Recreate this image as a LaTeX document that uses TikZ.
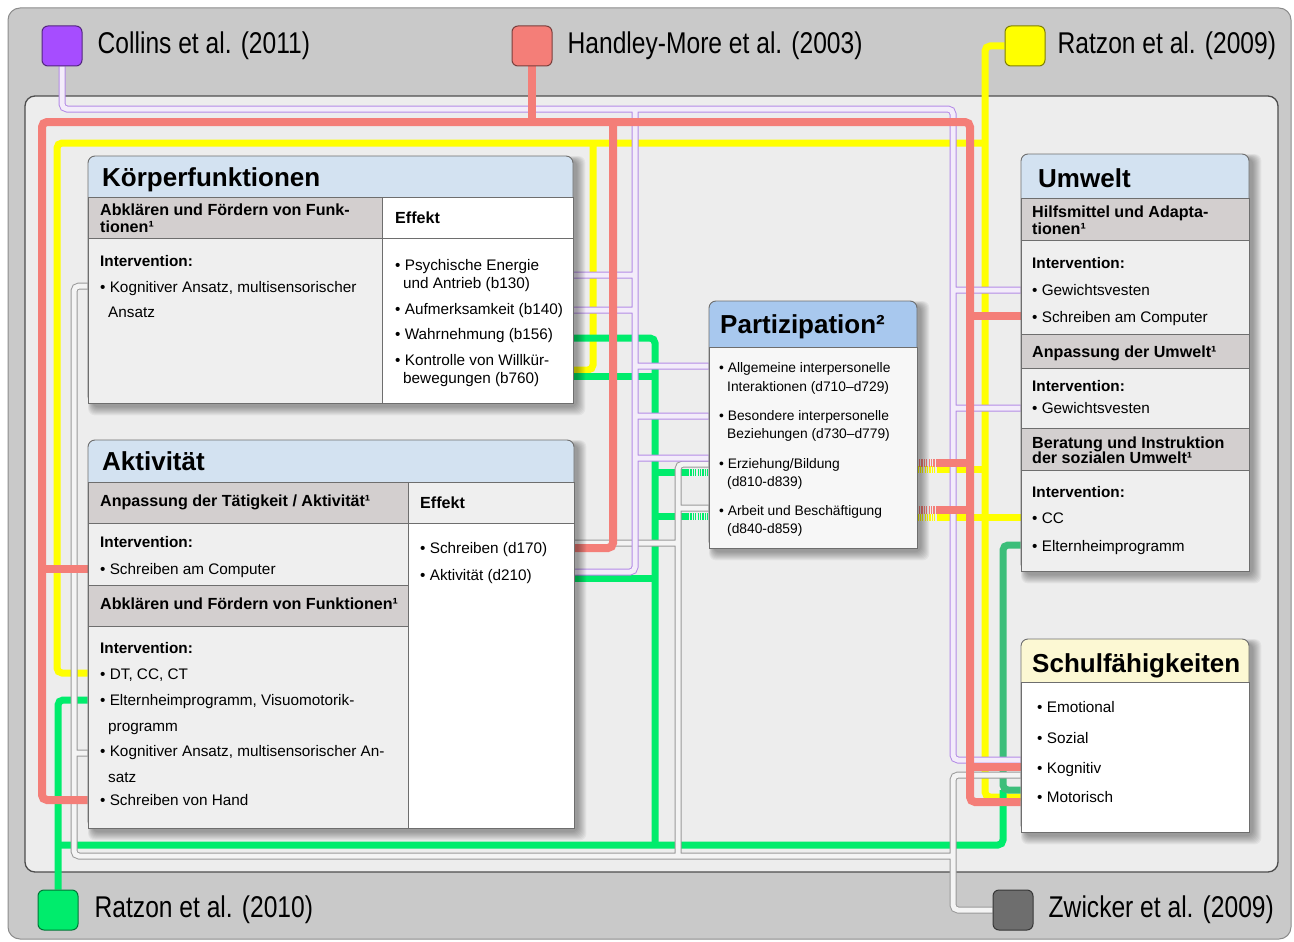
\documentclass[tikz,border=0pt]{standalone}
\usepackage{fontspec}
\setmainfont{Liberation Sans}
\newfontfamily\narrowfont{Liberation Sans}[FakeStretch=0.82]
\usetikzlibrary{positioning}

\definecolor{outerbg}{HTML}{C9C9C9}
\definecolor{outerline}{HTML}{8C8C8C}
\definecolor{innerbg}{HTML}{EDEDED}
\definecolor{innerline}{HTML}{4D4D4D}
\definecolor{headblue}{HTML}{D3E2F1}
\definecolor{partblue}{HTML}{A8C8EE}
\definecolor{creamhead}{HTML}{FCF8D3}
\definecolor{subgrey}{HTML}{D3CFCF}
\definecolor{cellgrey}{HTML}{EFEFEF}
\definecolor{boxline}{HTML}{6E6E6E}
\definecolor{hmred}{HTML}{F47E78}
\definecolor{rzyellow}{HTML}{FFFF00}
\definecolor{rzgreen}{HTML}{00EC6C}
\definecolor{rzgreendark}{HTML}{3CBE7A}
\definecolor{cpedge}{HTML}{B48BE6}
\definecolor{cpfill}{HTML}{F3ECFA}
\definecolor{zgedge}{HTML}{9A9A9A}
\definecolor{zgfill}{HTML}{F4F4F4}
\definecolor{collinscol}{HTML}{A64DFF}
\definecolor{zwickercol}{HTML}{6E6E6E}

\pgfdeclarelayer{bg}
\pgfdeclarelayer{lines}
\pgfdeclarelayer{shade}
\pgfsetlayers{bg,lines,shade,main}

\tikzset{
  legbox/.style={draw=#1!50!black, fill=#1, rounded corners=6pt, minimum size=40pt, inner sep=0pt, line width=1pt},
  legtxt/.style={font=\narrowfont\fontsize{30}{36}\selectfont, inner sep=0pt},
  panel/.style={draw=boxline, line width=0.9pt, rounded corners=7pt, inner sep=0pt},
  cell/.style={fill=#1, draw=boxline, line width=0.9pt},
  titletxt/.style={anchor=base west, inner sep=0pt, font=\fontsize{26}{30}\selectfont\bfseries},
  subtxt/.style={anchor=base west, inner sep=0pt, font=\fontsize{16.1}{18}\selectfont\bfseries},
  intertxt/.style={anchor=base west, inner sep=0pt, font=\fontsize{15.3}{18}\selectfont\bfseries},
  bodytxt/.style={anchor=base west, inner sep=0pt, font=\fontsize{15.3}{18}\selectfont},
  parttxt/.style={anchor=base west, inner sep=0pt, font=\fontsize{13.8}{16}\selectfont},
  redline/.style={draw=hmred, line width=8pt, rounded corners=5pt},
  yelline/.style={draw=rzyellow, line width=7pt, rounded corners=5pt},
  grnline/.style={draw=rzgreen, line width=7pt, rounded corners=5pt},
  tubeedge/.style={draw=#1, line width=7pt, rounded corners=5pt},
  tubefill/.style={draw=#1, line width=5pt, rounded corners=5pt},
  hatch/.style={dash pattern=on 1.2pt off 1.2pt, rounded corners=0pt}
}

% soft shadow below and right of a box node
\newcommand{\softshadow}[1]{%
  \begin{pgfonlayer}{shade}
  \foreach \d in {1,...,9}
    \fill[black, opacity=0.045, rounded corners=7pt]
      ([shift={(5-0.5*\d,5-0.5*\d)}]#1.north west) rectangle ([shift={(3+\d,3+\d)}]#1.south east);
  \end{pgfonlayer}}

% routes of the two outlined lines
\def\collinsroute{(collins.south) |- (953,109) |- (schule.west |- 0,760)
  (635,109) |- (aktiv.east |- 0,572)
  (koerper.east |- 0,275) -- (635,275)
  (koerper.east |- 0,310) -- (635,310)
  (635,366) -- (partiz.west |- 0,366)
  (635,416) -- (partiz.west |- 0,416)
  (635,458) -- (partiz.west |- 0,458)
  (953,290) -- (umwelt.west |- 0,290)
  (953,408) -- (umwelt.west |- 0,408)}
\def\zwickerroute{(zwicker.west) -| (953,775) -- (schule.west |- 0,775)
  (953,856) -| (74,286) -- (koerper.west |- 0,286)
  (74,753) -- (aktiv.west |- 0,753)
  (678,856) |- (partiz.west |- 0,464)
  (aktiv.east |- 0,543) -- (678,543)
  (678,508) -- (partiz.west |- 0,508)}

\begin{document}
\begin{tikzpicture}[x=1pt,y=-1pt]
\useasboundingbox (0,0) rectangle (1294,942);

% legend
\node[legbox=collinscol] (collins) at (62,46) {};
\node[legtxt, right=15pt of collins] {Collins et al. (2011)};
\node[legbox=hmred] (handley) at (532,46) {};
\node[legtxt, right=15pt of handley] {Handley-More et al. (2003)};
\node[legbox=rzyellow] (ratzon9) at (1025,46) {};
\node[legtxt, right=12pt of ratzon9] {Ratzon et al. (2009)};
\node[legbox=rzgreen] (ratzon10) at (58,910) {};
\node[legtxt, right=16pt of ratzon10] {Ratzon et al. (2010)};
\node[legbox=zwickercol] (zwicker) at (1013,910) {};
\node[legtxt, right=15pt of zwicker] {Zwicker et al. (2009)};

% Koerperfunktionen
\node[panel, fill=headblue, minimum width=485pt, minimum height=247pt] (koerper) at (330.5,279.5) {};
\softshadow{koerper}
\filldraw[cell=subgrey] (88,197) rectangle (382,238);
\filldraw[cell=white] (382,197) rectangle (573,238);
\filldraw[cell=cellgrey] (88,238) rectangle (382,403);
\filldraw[cell=white] (382,238) rectangle (573,403);
\node[titletxt] at (102,186) {Körperfunktionen};
\node[subtxt] at (100,215) {Abklären und Fördern von Funk-};
\node[subtxt] at (100,232) {tionen¹};
\node[subtxt] at (395,223) {Effekt};
\node[intertxt] at (100,266) {Intervention:};
\node[bodytxt] at (100,292) {• Kognitiver Ansatz, multisensorischer};
\node[bodytxt] at (108,317) {Ansatz};
\node[bodytxt] at (395,270) {• Psychische Energie};
\node[bodytxt] at (403,288) {und Antrieb (b130)};
\node[bodytxt] at (395,314) {• Aufmerksamkeit (b140)};
\node[bodytxt] at (395,339) {• Wahrnehmung (b156)};
\node[bodytxt] at (395,365) {• Kontrolle von Willkür-};
\node[bodytxt] at (403,383) {bewegungen (b760)};

% Aktivitaet
\node[panel, fill=headblue, minimum width=486pt, minimum height=388pt] (aktiv) at (331,634) {};
\softshadow{aktiv}
\filldraw[cell=subgrey] (88,482) rectangle (408,523);
\filldraw[cell=cellgrey] (408,482) rectangle (574,523);
\filldraw[cell=cellgrey] (88,523) rectangle (408,585);
\filldraw[cell=subgrey] (88,585) rectangle (408,626);
\filldraw[cell=cellgrey] (88,626) rectangle (408,828);
\filldraw[cell=white] (408,523) rectangle (574,828);
\node[titletxt] at (102,470) {Aktivität};
\node[subtxt] at (100,506) {Anpassung der Tätigkeit / Aktivität¹};
\node[subtxt] at (420,508) {Effekt};
\node[intertxt] at (100,547) {Intervention:};
\node[bodytxt] at (100,574) {• Schreiben am Computer};
\node[subtxt] at (100,609) {Abklären und Fördern von Funktionen¹};
\node[intertxt] at (100,653) {Intervention:};
\node[bodytxt] at (100,679) {• DT, CC, CT};
\node[bodytxt] at (100,705) {• Elternheimprogramm, Visuomotorik-};
\node[bodytxt] at (108,731) {programm};
\node[bodytxt] at (100,756) {• Kognitiver Ansatz, multisensorischer An-};
\node[bodytxt] at (108,782) {satz};
\node[bodytxt] at (100,805) {• Schreiben von Hand};
\node[bodytxt] at (420,553) {• Schreiben (d170)};
\node[bodytxt] at (420,580) {• Aktivität (d210)};

% Partizipation
\node[panel, fill=partblue, minimum width=208pt, minimum height=247pt] (partiz) at (813,424.5) {};
\softshadow{partiz}
\filldraw[cell=white!97!black] (709,347) rectangle (917,548);
\node[titletxt] at (720,333) {Partizipation²};
\node[parttxt] at (719,372) {• Allgemeine interpersonelle};
\node[parttxt] at (727,391) {Interaktionen (d710–d729)};
\node[parttxt] at (719,420) {• Besondere interpersonelle};
\node[parttxt] at (727,438) {Beziehungen (d730–d779)};
\node[parttxt] at (719,468) {• Erziehung/Bildung};
\node[parttxt] at (727,486) {(d810-d839)};
\node[parttxt] at (719,515) {• Arbeit und Beschäftigung};
\node[parttxt] at (727,533) {(d840-d859)};

% Umwelt
\node[panel, fill=headblue, minimum width=228pt, minimum height=417pt] (umwelt) at (1135,362.5) {};
\softshadow{umwelt}
\filldraw[cell=subgrey] (1021,198) rectangle (1249,240);
\filldraw[cell=cellgrey] (1021,240) rectangle (1249,334);
\filldraw[cell=subgrey] (1021,334) rectangle (1249,368);
\filldraw[cell=cellgrey] (1021,368) rectangle (1249,428);
\filldraw[cell=subgrey] (1021,428) rectangle (1249,470);
\filldraw[cell=cellgrey] (1021,470) rectangle (1249,571);
\node[titletxt] at (1038,187) {Umwelt};
\node[subtxt] at (1032,217) {Hilfsmittel und Adapta-};
\node[subtxt] at (1032,234) {tionen¹};
\node[intertxt] at (1032,268) {Intervention:};
\node[bodytxt] at (1032,295) {• Gewichtsvesten};
\node[bodytxt] at (1032,322) {• Schreiben am Computer};
\node[subtxt] at (1032,357) {Anpassung der Umwelt¹};
\node[intertxt] at (1032,391) {Intervention:};
\node[bodytxt] at (1032,413) {• Gewichtsvesten};
\node[subtxt] at (1032,448) {Beratung und Instruktion};
\node[subtxt] at (1032,463) {der sozialen Umwelt¹};
\node[intertxt] at (1032,497) {Intervention:};
\node[bodytxt] at (1032,523) {• CC};
\node[bodytxt] at (1032,551) {• Elternheimprogramm};

% Schulfaehigkeiten
\node[panel, fill=creamhead, minimum width=228pt, minimum height=193pt] (schule) at (1135,735.5) {};
\softshadow{schule}
\filldraw[cell=white] (1021,682) rectangle (1249,832);
\node[titletxt] at (1032,672) {Schulfähigkeiten};
\node[bodytxt] at (1037,712) {• Emotional};
\node[bodytxt] at (1037,743) {• Sozial};
\node[bodytxt] at (1037,773) {• Kognitiv};
\node[bodytxt] at (1037,802) {• Motorisch};

\begin{pgfonlayer}{bg}
\filldraw[fill=outerbg, draw=outerline, line width=1pt, rounded corners=12pt] (8,8) rectangle (1291,939);
\filldraw[fill=innerbg, draw=innerline, line width=1.3pt, rounded corners=10pt] (25,96) rectangle (1278,872);
\end{pgfonlayer}

\begin{pgfonlayer}{lines}
% Ratzon 2009
\draw[yelline] (ratzon9.west) -| (985,797) -- (schule.west |- 0,797);
\draw[yelline] (985,143) -| (57,673) -- (aktiv.west |- 0,673);
\draw[yelline] (593,143) |- (koerper.east |- 0,370);
\draw[yelline] (937,517) -- (umwelt.west |- 0,517);
\draw[yelline] (937,469) -- (985,469);
\draw[yelline, hatch] (partiz.east |- 0,469) -- (937,469);
\draw[yelline, hatch] (partiz.east |- 0,517) -- (937,517);
% Ratzon 2010
\draw[grnline] (ratzon10.north) |- (aktiv.west |- 0,700);
\draw[grnline] (58,845) -| (1003,790);
\draw[grnline, draw=rzgreendark] (schule.west |- 0,790) -| (1003,545) -- (umwelt.west |- 0,545);
\draw[grnline] (koerper.east |- 0,338) -| (655,845);
\draw[grnline] (koerper.east |- 0,376) -- (655,376);
\draw[grnline] (aktiv.east |- 0,578) -- (655,578);
\draw[grnline] (655,472) -- (688,472);
\draw[grnline] (655,516) -- (688,516);
\draw[grnline, hatch] (688,472) -- (partiz.west |- 0,472);
\draw[grnline, hatch] (688,516) -- (partiz.west |- 0,516);
% Zwicker 2009
\draw[tubeedge=zgedge] \zwickerroute;
\draw[tubefill=zgfill] \zwickerroute;
% Collins 2011
\draw[tubeedge=cpedge] \collinsroute;
\draw[tubefill=cpfill] \collinsroute;
% Handley-More 2003
\draw[redline] (handley.south) -- (532,122);
\draw[redline] (aktiv.west |- 0,800) -| (42,122) -| (970,802) -- (schule.west |- 0,802);
\draw[redline] (42,569) -- (aktiv.west |- 0,569);
\draw[redline] (613,122) |- (aktiv.east |- 0,548);
\draw[redline] (970,316) -- (umwelt.west |- 0,316);
\draw[redline] (970,767) -- (schule.west |- 0,767);
\draw[redline] (970,463) -- (937,463);
\draw[redline] (970,510) -- (937,510);
\draw[redline, hatch] (937,463) -- (partiz.east |- 0,463);
\draw[redline, hatch] (937,510) -- (partiz.east |- 0,510);
\end{pgfonlayer}
\end{tikzpicture}
\end{document}
